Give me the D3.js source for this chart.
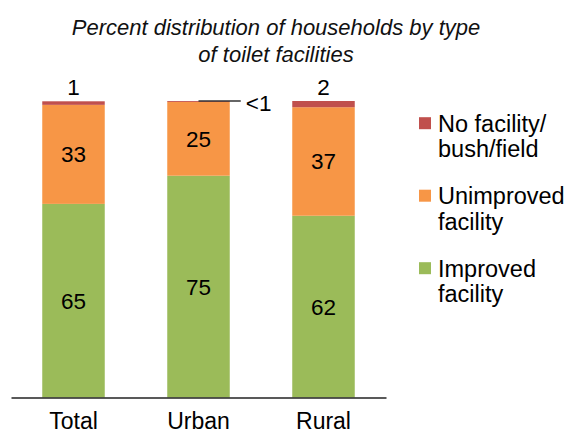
<!DOCTYPE html>
<html>
<head>
<meta charset="utf-8">
<script src="https://cdn.jsdelivr.net/npm/d3@7"></script>
<style>
  html, body { margin: 0; padding: 0; background: #fff; }
  svg { display: block; font-family: "Liberation Sans", Arial, sans-serif; }
</style>
</head>
<body>
<svg id="chart" width="569" height="434"></svg>
<script>
// ---- data ----
const titleLines = ["Percent distribution of households by type", "of toilet facilities"];
const categories = ["Total", "Urban", "Rural"];
const seriesNames = ["Improved facility", "Unimproved facility", "No facility/bush/field"];
const improved   = [65.3, 74.8, 61.3];
const unimproved = [33.4, 24.9, 36.6];
const noFacility = [1.2, 0.3, 2.1];
const improvedLabels   = ["65", "75", "62"];
const unimprovedLabels = ["33", "25", "37"];
const noFacilityLabels = ["1", "<1", "2"];
const legendLines = [["No facility/", "bush/field"], ["Unimproved", "facility"], ["Improved", "facility"]];
const colors = ["#9BBB59", "#F79646", "#C0504D"];

// ---- setup ----
const svg = d3.select("#chart");
const x = d3.scaleBand().domain(categories).range([11, 386]).paddingInner(0.5).paddingOuter(0.25);
const y = d3.scaleLinear().domain([0, 100]).range([397.5, 101]);

const rows = categories.map((c, i) => ({
  cat: c,
  "Improved facility": improved[i],
  "Unimproved facility": unimproved[i],
  "No facility/bush/field": noFacility[i]
}));
const stack = d3.stack().keys(seriesNames)(rows);
const labelSets = [improvedLabels, unimprovedLabels, noFacilityLabels];

// title
svg.append("text")
  .attr("x", 276).attr("y", 35)
  .attr("text-anchor", "middle")
  .style("font-style", "italic").style("font-size", "22px").attr("fill", "#111")
  .selectAll("tspan").data(titleLines).join("tspan")
  .attr("x", 276).attr("dy", (d, i) => i === 0 ? 0 : 26.5)
  .text(d => d);

// bars
const layers = svg.append("g").selectAll("g").data(stack).join("g")
  .attr("fill", (d, i) => colors[i]);
layers.selectAll("rect").data(d => d).join("rect")
  .attr("x", d => x(d.data.cat))
  .attr("width", x.bandwidth())
  .attr("y", d => y(d[1]))
  .attr("height", d => y(d[0]) - y(d[1]));

// inside labels (improved, unimproved)
[0, 1].forEach(si => {
  svg.append("g").selectAll("text").data(stack[si]).join("text")
    .attr("x", d => x(d.data.cat) + x.bandwidth() / 2)
    .attr("y", d => (y(d[0]) + y(d[1])) / 2 + 8)
    .attr("text-anchor", "middle")
    .style("font-size", "22.5px").attr("fill", "#000")
    .text((d, i) => labelSets[si][i]);
});

// top labels (no facility)
stack[2].forEach((d, i) => {
  const cx = x(d.data.cat) + x.bandwidth() / 2;
  const top = y(d[1]);
  if (noFacilityLabels[i].startsWith("<")) {
    const x1 = x(d.data.cat) + x.bandwidth() + 11;
    svg.append("line")
      .attr("x1", cx).attr("x2", x1)
      .attr("y1", top).attr("y2", top)
      .attr("stroke", "#333").attr("stroke-width", 1.3);
    svg.append("text")
      .attr("x", x1 + 5).attr("y", top + 9.5)
      .style("font-size", "22.5px").attr("fill", "#000")
      .text(noFacilityLabels[i]);
  } else {
    svg.append("text")
      .attr("x", cx).attr("y", top - 6)
      .attr("text-anchor", "middle")
      .style("font-size", "22.5px").attr("fill", "#000")
      .text(noFacilityLabels[i]);
  }
});

// axis
const axis = svg.append("g").attr("transform", `translate(0,${y(0)})`)
  .call(d3.axisBottom(x).tickSize(0).tickSizeOuter(0));
axis.select(".domain").attr("stroke", "#222").attr("stroke-width", 1.4);
axis.selectAll("text")
  .attr("y", 31).attr("dy", null)
  .style("font-size", "23px").style("font-family", "'Liberation Sans', Arial, sans-serif")
  .attr("fill", "#000");

// legend
const lg = svg.append("g").selectAll("g").data(legendLines).join("g")
  .attr("transform", (d, i) => `translate(0,${131.7 + i * 72.5})`);
lg.append("rect")
  .attr("x", 419).attr("y", -14.5).attr("width", 12).attr("height", 12)
  .attr("fill", (d, i) => colors[2 - i]);
lg.append("text")
  .attr("x", 438).attr("y", 0)
  .style("font-size", "23.5px").attr("fill", "#000")
  .selectAll("tspan").data(d => d).join("tspan")
  .attr("x", 438).attr("dy", (d, i) => i === 0 ? 0 : 25.8)
  .text(d => d);
</script>
</body>
</html>
